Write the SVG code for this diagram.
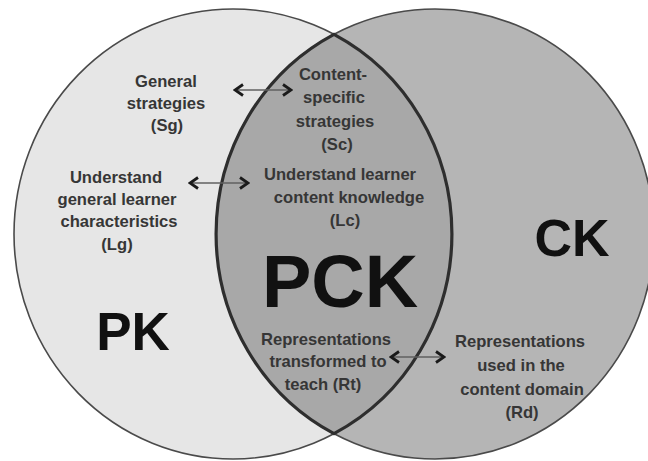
<svg xmlns="http://www.w3.org/2000/svg" width="648" height="461" viewBox="0 0 648 461">
<defs>
<style>
.circ{stroke:#4a4a4a;stroke-width:1.6}
.lens{fill:#a8a8a8;stroke:#2e2e2e;stroke-width:3.2}
.lbl{font-family:"Liberation Sans",Arial,sans-serif;font-weight:bold;font-size:16.6px;fill:#363636;text-anchor:middle}
.big{font-family:"Liberation Sans",Arial,sans-serif;font-weight:bold;fill:#111;text-anchor:middle}
.arr{stroke:#606060;stroke-width:1.6;fill:none;marker-start:url(#ah);marker-end:url(#ah)}
</style>
<marker id="ah" viewBox="-2 -7 12 14" markerWidth="12" markerHeight="14" refX="8" refY="0" orient="auto-start-reverse" markerUnits="userSpaceOnUse">
<path d="M0,-5.5 L8,0 L0,5.5" fill="none" stroke="#1a1a1a" stroke-width="2.8" stroke-linejoin="miter"/>
</marker>
</defs>
<rect width="648" height="461" fill="#fff"/>
<g id="pk">
<ellipse class="circ" cx="233" cy="234" rx="219" ry="225" fill="#e6e6e6"/>
</g>
<g id="ck">
<ellipse class="circ" cx="435" cy="234" rx="219" ry="225" fill="#b5b5b5"/>
</g>
<g id="pck">
<path class="lens" d="M334,34.4 A219,225 0 0,0 334,433.6 A219,225 0 0,0 334,34.4 Z"/>
</g>
<g id="connectors">
<line class="arr" x1="235" y1="90" x2="291" y2="90"/>
<line class="arr" x1="190" y1="183" x2="248" y2="183"/>
<line class="arr" x1="391" y1="357" x2="444" y2="357"/>
</g>
<g id="label-pk"><text class="big" x="133" y="350" font-size="53">PK</text></g>
<g id="label-ck"><text class="big" x="572" y="256" font-size="52">CK</text></g>
<g id="label-pck"><text class="big" x="340" y="307" font-size="74">PCK</text></g>
<g id="sg">
<text class="lbl" x="166" y="87">General</text>
<text class="lbl" x="166" y="109">strategies</text>
<text class="lbl" x="167" y="131">(Sg)</text>
</g>
<g id="sc">
<text class="lbl" x="333" y="80">Content-</text>
<text class="lbl" x="334" y="103">specific</text>
<text class="lbl" x="335" y="127">strategies</text>
<text class="lbl" x="337" y="150">(Sc)</text>
</g>
<g id="lg">
<text class="lbl" x="116" y="183">Understand</text>
<text class="lbl" x="117" y="205">general learner</text>
<text class="lbl" x="119" y="227">characteristics</text>
<text class="lbl" x="117" y="250">(Lg)</text>
</g>
<g id="lc">
<text class="lbl" x="340" y="180">Understand learner</text>
<text class="lbl" x="349" y="203">content knowledge</text>
<text class="lbl" x="345" y="226">(Lc)</text>
</g>
<g id="rt">
<text class="lbl" x="326" y="345">Representations</text>
<text class="lbl" x="328" y="367">transformed to</text>
<text class="lbl" x="323" y="390">teach (Rt)</text>
</g>
<g id="rd">
<text class="lbl" x="520" y="347">Representations</text>
<text class="lbl" x="521" y="371">used in the</text>
<text class="lbl" x="522" y="395">content domain</text>
<text class="lbl" x="522" y="418">(Rd)</text>
</g>
</svg>
